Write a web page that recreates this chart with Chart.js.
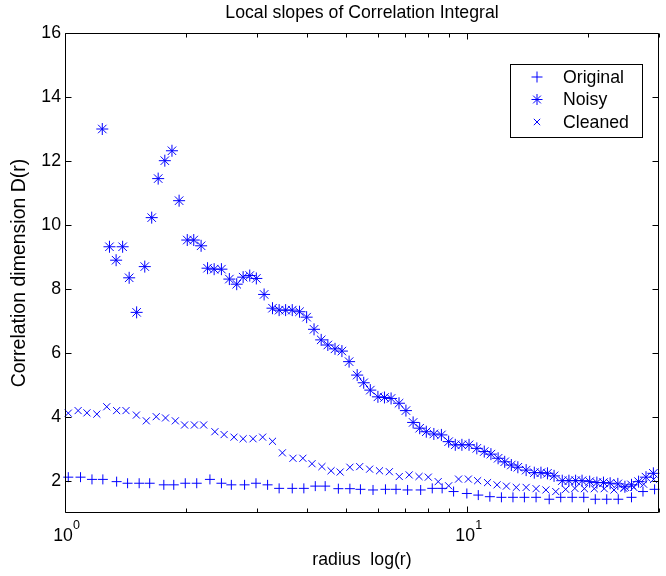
<!DOCTYPE html>
<html>
<head>
<meta charset="utf-8">
<title>Local slopes of Correlation Integral</title>
<script src="https://cdn.jsdelivr.net/npm/chart.js@4.4.1/dist/chart.umd.min.js"></script>
<style>
  html, body { margin: 0; padding: 0; background: #fff; }
  #wrap { width: 666px; height: 576px; }
</style>
</head>
<body>
<div id="wrap"><canvas id="slopeChart" width="666" height="576"></canvas></div>
<script>
// radius r and local slope D(r) for each series
const originalR = [1.019, 1.093, 1.167, 1.242, 1.344, 1.431, 1.529, 1.624, 1.761, 1.864,
    1.991, 2.126, 2.293, 2.449, 2.592, 2.796, 2.985, 3.190, 3.408, 3.674,
    3.926, 4.192, 4.436, 4.784, 5.110, 5.428, 5.834, 6.265, 6.655, 7.111,
    7.664, 8.190, 8.667, 9.254, 9.983, 10.66, 11.39, 12.17, 13.00, 13.88,
    14.84, 16.00, 17.09, 18.25, 19.50, 20.83, 22.24, 23.76, 25.63, 27.37, 29.25];
const originalD = [2.12, 2.12, 2.05, 2.05, 1.98, 1.93, 1.93, 1.93, 1.88, 1.88,
    1.93, 1.93, 2.05, 1.93, 1.88, 1.88, 1.93, 1.88, 1.77, 1.77,
    1.77, 1.84, 1.84, 1.76, 1.76, 1.74, 1.72, 1.74, 1.74, 1.72,
    1.72, 1.77, 1.77, 1.67, 1.61, 1.56, 1.51, 1.49, 1.49, 1.49,
    1.49, 1.43, 1.49, 1.49, 1.49, 1.43, 1.43, 1.43, 1.49, 1.67, 1.74];

const noisyR = [1.238, 1.290, 1.340, 1.391, 1.444, 1.507, 1.579, 1.643, 1.705, 1.771,
    1.845, 1.922, 2.014, 2.090, 2.180, 2.262, 2.349, 2.449, 2.563, 2.673,
    2.773, 2.880, 2.991, 3.127, 3.281, 3.408, 3.537, 3.674, 3.830, 3.989,
    4.162, 4.336, 4.504, 4.693, 4.882, 5.087, 5.328, 5.531, 5.744, 6.000,
    6.229, 6.470, 6.770, 7.044, 7.340, 7.621, 7.915, 8.265, 8.631, 8.996,
    9.344, 9.705, 10.11, 10.57, 11.03, 11.46, 11.94, 12.40, 12.88, 13.37,
    14.02, 14.69, 15.26, 15.84, 16.45, 17.24, 17.91, 18.61, 19.31, 20.17,
    21.02, 21.83, 22.68, 23.70, 24.68, 25.63, 26.69, 27.85, 29.05];
const noisyD = [13.0, 9.32, 8.90, 9.32, 8.35, 7.27, 8.70, 10.23, 11.45, 12.01,
    12.32, 10.76, 9.53, 9.53, 9.35, 8.65, 8.62, 8.62, 8.31, 8.15,
    8.37, 8.42, 8.33, 7.83, 7.40, 7.34, 7.34, 7.34, 7.29, 7.12,
    6.74, 6.41, 6.25, 6.13, 6.06, 5.73, 5.31, 5.07, 4.84, 4.63,
    4.61, 4.58, 4.43, 4.20, 3.83, 3.65, 3.54, 3.47, 3.44, 3.23,
    3.13, 3.13, 3.13, 3.02, 2.92, 2.84, 2.71, 2.60, 2.50, 2.43,
    2.34, 2.26, 2.26, 2.24, 2.16, 2.01, 2.01, 2.01, 2.01, 1.98,
    1.95, 1.95, 1.93, 1.91, 1.82, 1.88, 1.98, 2.12, 2.24];

const cleanedR = [1.019, 1.078, 1.134, 1.200, 1.270, 1.344, 1.418, 1.505, 1.593, 1.686,
    1.778, 1.881, 1.983, 2.098, 2.212, 2.359, 2.487, 2.632, 2.773, 2.935,
    3.101, 3.281, 3.472, 3.689, 3.904, 4.114, 4.354, 4.588, 4.833, 5.110,
    5.406, 5.722, 6.055, 6.407, 6.781, 7.176, 7.591, 8.006, 8.473, 8.996,
    9.520, 10.07, 10.62, 11.24, 11.87, 12.52, 13.25, 14.02, 14.84, 15.70,
    16.61, 17.58, 18.53, 19.57, 20.71, 21.92, 23.19, 24.54, 25.97, 27.48, 29.08];
const cleanedD = [4.12, 4.20, 4.13, 4.09, 4.32, 4.20, 4.20, 4.06, 3.88, 4.01,
    3.97, 3.88, 3.75, 3.75, 3.75, 3.54, 3.45, 3.37, 3.32, 3.32,
    3.37, 3.24, 2.88, 2.71, 2.71, 2.54, 2.45, 2.32, 2.28, 2.43,
    2.45, 2.37, 2.32, 2.29, 2.14, 2.19, 2.14, 2.12, 1.98, 1.85,
    2.06, 2.06, 2.01, 1.95, 1.88, 1.84, 1.80, 1.80, 1.76, 1.72,
    1.67, 1.74, 1.77, 1.76, 1.76, 1.76, 1.72, 1.77, 1.80, 1.90, 2.05];

// axis ticks
const xTickMarks = [1, 2, 3, 4, 5, 6, 7, 8, 9, 10, 20, 30];
const xLabelTicks = [1, 10];
const xExponents = ['0', '1'];
const yTickMarks = [2, 4, 6, 8, 10, 12, 14, 16];

const blue = 'rgb(0,0,255)';
const fontFamily = "'Liberation Sans', Arial, Helvetica, sans-serif";
const textSize = 17.7;

function toPoints(rs, ds) {
    return rs.map((r, i) => ({ x: r, y: ds[i] }));
}

function drawMarker(ctx, style, x, y, r) {
    ctx.beginPath();
    if (style === 'cross' || style === 'star') {
        ctx.moveTo(x - r, y); ctx.lineTo(x + r, y);
        ctx.moveTo(x, y - r); ctx.lineTo(x, y + r);
    }
    if (style === 'crossRot' || style === 'star') {
        const d = r * Math.SQRT1_2;
        ctx.moveTo(x - d, y - d); ctx.lineTo(x + d, y + d);
        ctx.moveTo(x - d, y + d); ctx.lineTo(x + d, y - d);
    }
    ctx.stroke();
}

// matlab style box: frame, inward ticks on all four sides, exponents, legend inside
const boxTicks = {
    id: 'boxTicks',
    afterDraw(chart) {
        const { ctx, chartArea: a, scales: { x, y } } = chart;
        const L = Math.round(a.left) + 0.5, R = Math.round(a.right) - 0.5;
        const T = Math.round(a.top) + 0.5, B = Math.round(a.bottom) - 0.5;
        ctx.save();
        ctx.strokeStyle = '#000';
        ctx.lineWidth = 1;
        ctx.beginPath();
        ctx.rect(L, T, R - L, B - T);
        xTickMarks.forEach(v => {
            const px = Math.round(x.getPixelForValue(v)) + 0.5;
            const len = xLabelTicks.includes(v) ? 6 : 4;
            ctx.moveTo(px, B); ctx.lineTo(px, B - len);
            ctx.moveTo(px, T); ctx.lineTo(px, T + len);
        });
        yTickMarks.forEach(v => {
            const py = Math.round(y.getPixelForValue(v)) + 0.5;
            ctx.moveTo(L, py); ctx.lineTo(L + 6, py);
            ctx.moveTo(R, py); ctx.lineTo(R - 6, py);
        });
        ctx.stroke();

        // superscripts of the 10^n tick labels
        ctx.fillStyle = '#000';
        ctx.font = '12.5px ' + fontFamily;
        ctx.textBaseline = 'middle';
        ctx.textAlign = 'left';
        xLabelTicks.forEach((v, i) => {
            ctx.fillText(xExponents[i], x.getPixelForValue(v) + 8, 526);
        });

        // legend
        ctx.fillStyle = '#fff';
        ctx.fillRect(510.5, 64.5, 132, 73);
        ctx.strokeRect(510.5, 64.5, 132, 73);
        ctx.font = textSize + 'px ' + fontFamily;
        chart.data.datasets.forEach((ds, i) => {
            const ly = 77 + i * 22.5;
            ctx.strokeStyle = ds.borderColor;
            ctx.lineWidth = 1;
            drawMarker(ctx, ds.pointStyle, 537, ly, ds.pointStyle === 'crossRot' ? 4.5 : 5.5);
            ctx.fillStyle = '#000';
            ctx.fillText(ds.label, 563, ly + 1);
        });
        ctx.restore();
    }
};

const ctx = document.getElementById('slopeChart').getContext('2d');
new Chart(ctx, {
    type: 'scatter',
    data: {
        datasets: [
            {
                label: 'Original',
                data: toPoints(originalR, originalD),
                pointStyle: 'cross',
                pointRadius: 5,
                borderColor: blue,
                backgroundColor: blue,
                borderWidth: 1,
                clip: false
            },
            {
                label: 'Noisy',
                data: toPoints(noisyR, noisyD),
                pointStyle: 'star',
                pointRadius: 6,
                borderColor: blue,
                backgroundColor: blue,
                borderWidth: 1,
                clip: false
            },
            {
                label: 'Cleaned',
                data: toPoints(cleanedR, cleanedD),
                pointStyle: 'crossRot',
                pointRadius: 5,
                borderColor: blue,
                backgroundColor: blue,
                borderWidth: 1,
                clip: false
            }
        ]
    },
    options: {
        responsive: false,
        animation: false,
        devicePixelRatio: 1,
        events: [],
        layout: { padding: { left: 0, right: 1, top: 0, bottom: 0 } },
        plugins: {
            legend: { display: false },
            tooltip: { enabled: false }
        },
        scales: {
            x: {
                type: 'logarithmic',
                position: 'bottom',
                min: 1,
                max: 30,
                afterFit: scale => { scale.height = 63; },
                afterBuildTicks: scale => {
                    scale.ticks = xLabelTicks.map(v => ({ value: v, major: true }));
                },
                grid: { display: false, drawTicks: false },
                border: { display: false },
                ticks: {
                    autoSkip: false,
                    maxRotation: 0,
                    minRotation: 0,
                    padding: 12,
                    labelOffset: -2,
                    color: '#000',
                    font: { family: fontFamily, size: textSize },
                    callback: value => xLabelTicks.includes(value) ? '10' : ''
                },
                title: {
                    display: true,
                    text: 'radius  log(r)',
                    color: '#000',
                    font: { family: fontFamily, size: textSize },
                    padding: { top: 0, bottom: 5 }
                }
            },
            // top axis only carries the plot title, centred over the axes box
            xTop: {
                type: 'logarithmic',
                position: 'top',
                min: 1,
                max: 30,
                afterFit: scale => { scale.height = 33; },
                grid: { display: false, drawTicks: false },
                border: { display: false },
                ticks: { display: false },
                title: {
                    display: true,
                    text: 'Local slopes of Correlation Integral',
                    color: '#000',
                    font: { family: fontFamily, size: textSize },
                    padding: { top: 2, bottom: 0 }
                }
            },
            y: {
                min: 1,
                max: 16,
                afterFit: scale => { scale.width = 65; },
                afterBuildTicks: scale => {
                    scale.ticks = yTickMarks.map(v => ({ value: v }));
                },
                grid: { display: false, drawTicks: false },
                border: { display: false },
                ticks: {
                    padding: 4,
                    color: '#000',
                    font: { family: fontFamily, size: textSize }
                },
                title: {
                    display: true,
                    text: 'Correlation dimension D(r)',
                    color: '#000',
                    font: { family: fontFamily, size: 19.5 },
                    padding: { top: 8, bottom: 0 }
                }
            }
        }
    },
    plugins: [boxTicks]
});
</script>
</body>
</html>
